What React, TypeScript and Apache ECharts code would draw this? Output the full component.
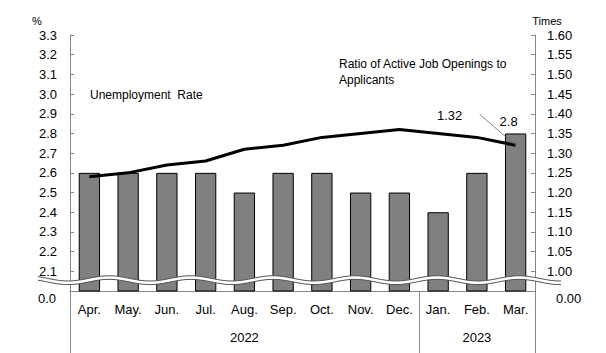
import React, { useEffect, useRef } from 'react';
import * as echarts from 'echarts';

const months = ['Apr.', 'May.', 'Jun.', 'Jul.', 'Aug.', 'Sep.', 'Oct.', 'Nov.', 'Dec.', 'Jan.', 'Feb.', 'Mar.'];
const yearLabels = ['2022', '2023'];
const yearStarts = [0, 9];
const unemploymentRate = [2.6, 2.6, 2.6, 2.6, 2.5, 2.6, 2.6, 2.5, 2.5, 2.4, 2.6, 2.8];
const jobRatio = [1.24, 1.25, 1.27, 1.28, 1.31, 1.32, 1.34, 1.35, 1.36, 1.35, 1.34, 1.32];
const leftMin = 2.0;
const leftMax = 3.3;
const leftStep = 0.1;
const rightMin = 0.95;
const rightMax = 1.6;
const rightStep = 0.05;
const leftBreakLabel = '0.0';
const rightBreakLabel = '0.00';

const FONT = '"Liberation Sans", Arial, sans-serif';
const GRAY = '#868686';

export default function App() {
  const ref = useRef<HTMLDivElement>(null);
  useEffect(() => {
    document.body.style.margin = '0';
    const chart = echarts.init(ref.current!, null, { renderer: 'svg' });
    const lastIdx = months.length - 1;
    chart.setOption({
      animation: false,
      textStyle: { fontFamily: FONT, color: '#000' },
      grid: { left: 70, right: 71, top: 35, bottom: 62 },
      xAxis: {
        type: 'category',
        data: months,
        axisLine: { lineStyle: { color: GRAY } },
        axisTick: { show: false },
        axisLabel: { color: '#000', fontSize: 13, margin: 12, fontFamily: FONT },
      },
      yAxis: [
        {
          type: 'value',
          min: leftMin,
          max: leftMax,
          interval: leftStep,
          splitLine: { show: false },
          axisLine: { show: true, lineStyle: { color: GRAY } },
          axisTick: { show: true, inside: true, length: 4, lineStyle: { color: GRAY } },
          axisLabel: {
            color: '#000', fontSize: 13, margin: 13, fontFamily: FONT,
            formatter: (v: number) => (v < leftMin + leftStep / 2 ? '' : v.toFixed(1)),
          },
        },
        {
          type: 'value',
          min: rightMin,
          max: rightMax,
          interval: rightStep,
          position: 'right',
          splitLine: { show: false },
          axisLine: { show: true, lineStyle: { color: GRAY } },
          axisTick: { show: true, inside: true, length: 4, lineStyle: { color: GRAY } },
          axisLabel: {
            color: '#000', fontSize: 13, margin: 12, fontFamily: FONT,
            formatter: (v: number) => (v < rightMin + rightStep / 2 ? '' : v.toFixed(2)),
          },
        },
      ],
      series: [
        {
          type: 'bar',
          yAxisIndex: 0,
          barWidth: '55%',
          itemStyle: { color: '#808080', borderColor: '#000', borderWidth: 1 },
          data: unemploymentRate.map((v, i) =>
            i === lastIdx
              ? { value: v, label: { show: true, position: 'top', offset: [-7, 0], color: '#000', fontSize: 13, fontFamily: FONT, formatter: (p: any) => String(p.value) } }
              : v
          ),
        },
        {
          type: 'line',
          yAxisIndex: 1,
          data: jobRatio,
          symbol: 'none',
          lineStyle: { color: '#000', width: 3 },
          z: 5,
        },
      ],
    });

    const px = (i: number) => chart.convertToPixel({ xAxisIndex: 0 }, i) as number;
    const band = px(1) - px(0);
    const yBase = chart.convertToPixel({ yAxisIndex: 0 }, leftMin) as number;
    const xL = px(0) - band / 2;
    const xR = px(lastIdx) + band / 2;
    const waveY = chart.convertToPixel({ yAxisIndex: 0 }, 2.055) as number;

    const top: number[][] = [];
    const bot: number[][] = [];
    for (let x = xL - 32; x <= xR + 26; x += 1) {
      const y = waveY - 2.6 * Math.cos((2 * Math.PI * (x - 437)) / 82);
      top.push([x, y - 1.8]);
      bot.push([x, y + 1.8]);
    }

    const lastPt = chart.convertToPixel({ xAxisIndex: 0, yAxisIndex: 1 }, [lastIdx, jobRatio[lastIdx]]) as number[];

    const graphics: any[] = [
      { type: 'polygon', shape: { points: [...top, ...bot.slice().reverse()] }, style: { fill: '#fff' }, z: 100 },
      { type: 'polyline', shape: { points: top }, style: { stroke: '#555', lineWidth: 1, fill: null }, z: 101 },
      { type: 'polyline', shape: { points: bot }, style: { stroke: '#555', lineWidth: 1, fill: null }, z: 101 },
      { type: 'text', x: 56, y: yBase + 7, style: { text: leftBreakLabel, fill: '#000', font: `13px ${FONT}`, align: 'right', verticalAlign: 'middle' }, z: 101 },
      { type: 'text', x: xR + 21, y: yBase + 7, style: { text: rightBreakLabel, fill: '#000', font: `13px ${FONT}`, align: 'left', verticalAlign: 'middle' }, z: 101 },
      { type: 'text', x: 37, y: 21, style: { text: '%', fill: '#000', font: `11px ${FONT}`, align: 'center', verticalAlign: 'middle' } },
      { type: 'text', x: 547, y: 21, style: { text: 'Times', fill: '#000', font: `11px ${FONT}`, align: 'center', verticalAlign: 'middle' } },
      { type: 'text', x: 90, y: 95, style: { text: 'Unemployment  Rate', fill: '#000', font: `12px ${FONT}`, align: 'left', verticalAlign: 'middle' } },
      { type: 'text', x: 339, y: 72, style: { text: 'Ratio of Active Job Openings to\nApplicants', fill: '#000', font: `12px ${FONT}`, align: 'left', verticalAlign: 'middle', lineHeight: 16 } },
      { type: 'line', shape: { x1: lastPt[0] - 36, y1: lastPt[1] - 31, x2: lastPt[0], y2: lastPt[1] }, style: { stroke: '#666', lineWidth: 0.8 }, z: 6 },
      { type: 'text', x: lastPt[0] - 66, y: lastPt[1] - 30, style: { text: jobRatio[lastIdx].toFixed(2), fill: '#000', font: `13px ${FONT}`, align: 'center', verticalAlign: 'middle' } },
    ];

    // year group separators and labels
    const bounds = [...yearStarts, months.length];
    bounds.forEach((b) => {
      const x = Math.round(px(0) - band / 2 + b * band) + 0.5;
      graphics.push({ type: 'line', shape: { x1: x, y1: yBase, x2: x, y2: 353 }, style: { stroke: GRAY, lineWidth: 1 } });
    });
    yearLabels.forEach((lbl, k) => {
      const a = xL + yearStarts[k] * band;
      const e = xL + bounds[k + 1] * band;
      graphics.push({ type: 'text', x: (a + e) / 2, y: yBase + 46, style: { text: lbl, fill: '#000', font: `13px ${FONT}`, align: 'center', verticalAlign: 'middle' } });
    });

    chart.setOption({ graphic: graphics });
    return () => chart.dispose();
  }, []);
  return <div ref={ref} style={{ width: 606, height: 353 }} />;
}
